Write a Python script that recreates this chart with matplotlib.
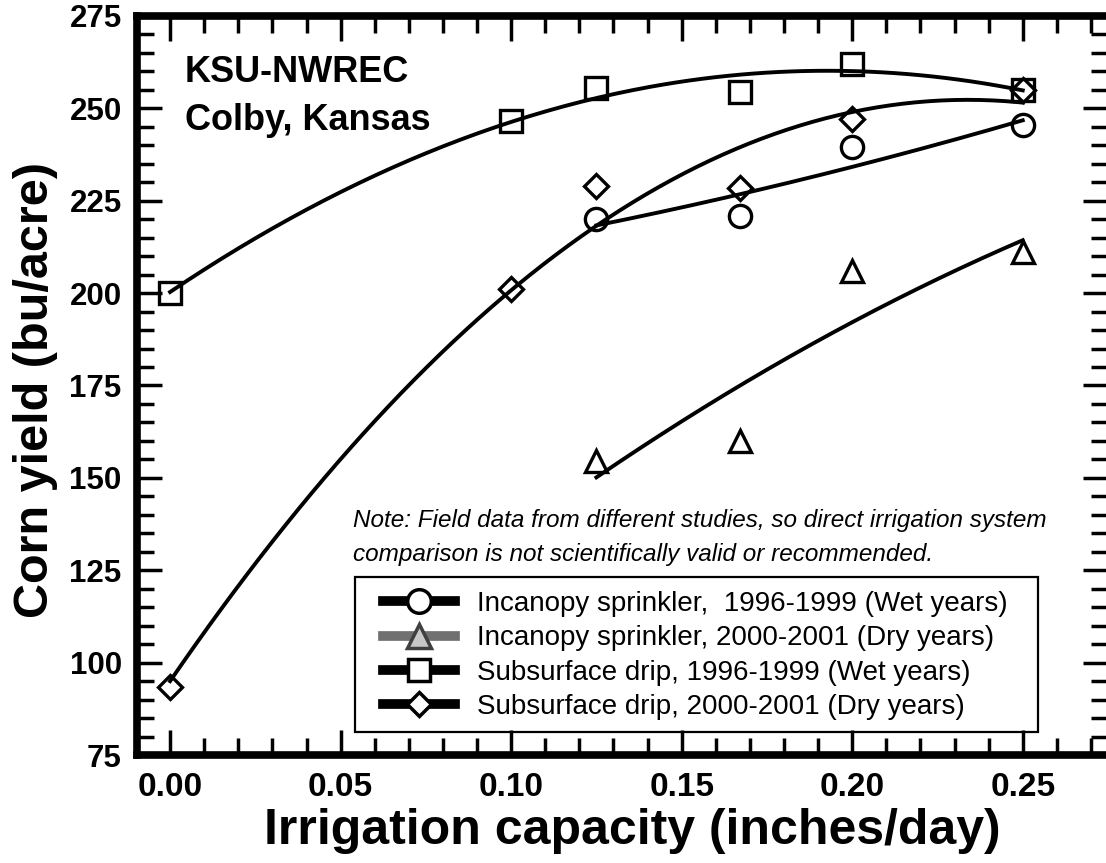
import matplotlib
matplotlib.use('Agg')
import matplotlib.pyplot as plt
import numpy as np
from matplotlib.lines import Line2D
from matplotlib.patches import Rectangle
from matplotlib.ticker import MultipleLocator

plt.rcParams['font.family'] = 'Liberation Sans'

# irrigation capacity (inches/day)
cap_wet = [0.125, 0.167, 0.20, 0.25]
cap_drip = [0.0, 0.10, 0.125, 0.167, 0.20, 0.25]

# corn yield (bu/acre)
sprinkler_wet = [220, 221, 239.5, 245.5]
sprinkler_dry = [154.5, 160, 206, 211]
drip_wet = [200, 246.5, 255.5, 254.5, 262, 255]
drip_dry = [93.5, 201, 229, 228.5, 247, 255]

labels = ['Incanopy sprinkler,  1996-1999 (Wet years)',
          'Incanopy sprinkler, 2000-2001 (Dry years)',
          'Subsurface drip, 1996-1999 (Wet years)',
          'Subsurface drip, 2000-2001 (Dry years)']

x_ticks = [0.0, 0.05, 0.10, 0.15, 0.20, 0.25]
y_ticks = [75, 100, 125, 150, 175, 200, 225, 250, 275]


def fit_curve(x, y):
    # second order regression line over the range of the data
    coef = np.polyfit(x, y, 2)
    xs = np.linspace(min(x), max(x), 200)
    return xs, np.polyval(coef, xs)


def main():
    W, H = 1106, 863
    fig = plt.figure(figsize=(W / 100, H / 100), dpi=100)
    ax = fig.add_axes([137 / W, 1 - 755 / H, (1108 - 137) / W, (755 - 16) / H])

    series = [
        (cap_wet, sprinkler_wet, 'o', 16),
        (cap_wet, sprinkler_dry, '^', 16),
        (cap_drip, drip_wet, 's', 15.5),
        (cap_drip, drip_dry, 'D', 12),
    ]
    for x, y, m, ms in series:
        xs, ys = fit_curve(x, y)
        ax.plot(xs, ys, color='black', lw=2.8, zorder=2)
        ax.plot(x, y, linestyle='none', marker=m, ms=ms, mfc='none',
                mec='black', mew=2.4, zorder=3)

    ax.set_xlim(-0.0097, 0.275)
    ax.set_ylim(75, 275)
    ax.set_xticks(x_ticks)
    ax.set_xticklabels(['%.2f' % v for v in x_ticks])
    ax.set_yticks(y_ticks)
    ax.xaxis.set_minor_locator(MultipleLocator(0.01))
    ax.yaxis.set_minor_locator(MultipleLocator(5))
    ax.tick_params(which='both', direction='in', top=True, right=True,
                   width=2.5, color='black')
    ax.tick_params(which='major', length=18)
    ax.tick_params(which='minor', length=12.5)
    ax.tick_params(axis='x', pad=12, labelsize=24)
    ax.tick_params(axis='y', pad=11, labelsize=22.5)
    for lbl in ax.get_xticklabels() + ax.get_yticklabels():
        lbl.set_fontweight('bold')
    for sp in ax.spines.values():
        sp.set_linewidth(5.5)

    ax.set_xlabel('Irrigation capacity (inches/day)', fontsize=36, fontweight='bold')
    ax.xaxis.set_label_coords(0.51, -0.072)
    ax.xaxis.label.set_va('top')
    ax.set_ylabel('Corn yield (bu/acre)', fontsize=35, fontweight='bold')
    ax.yaxis.set_label_coords(-0.081, 0.494)

    ax.text(0.0494, 0.9107, 'KSU-NWREC', transform=ax.transAxes,
            fontsize=26, fontweight='bold', va='baseline')
    ax.text(0.0494, 0.8457, 'Colby, Kansas', transform=ax.transAxes,
            fontsize=26, fontweight='bold', va='baseline')

    fig.text(353 / W, 1 - 527 / H,
             'Note: Field data from different studies, so direct irrigation system',
             fontsize=17.5, style='italic', va='baseline')
    fig.text(353 / W, 1 - 561 / H,
             'comparison is not scientifically valid or recommended.',
             fontsize=17.5, style='italic', va='baseline')

    # legend frame
    fig.patches.append(Rectangle((355 / W, 1 - 732 / H), (1038 - 355) / W,
                                 (732 - 577) / H, transform=fig.transFigure,
                                 fill=False, ec='black', lw=1.6))

    handles = [
        Line2D([], [], color='black', lw=7, marker='o', ms=17, mfc='white', mec='black', mew=2.5),
        Line2D([], [], color='#707070', lw=7, marker='^', ms=17, mfc='#c8c8c8', mec='#404040', mew=2.5),
        Line2D([], [], color='black', lw=7, marker='s', ms=16, mfc='white', mec='black', mew=2.5),
        Line2D([], [], color='black', lw=7, marker='D', ms=12.5, mfc='white', mec='black', mew=2.5),
    ]
    fig.legend(handles, labels, loc='upper left',
               bbox_to_anchor=(383 / W, 1 - 591 / H), frameon=False,
               fontsize=20, handlelength=2.6, handletextpad=0.8,
               labelspacing=0.3, borderpad=0, borderaxespad=0)

    fig.savefig('out.png', dpi=100)


if __name__ == '__main__':
    main()
